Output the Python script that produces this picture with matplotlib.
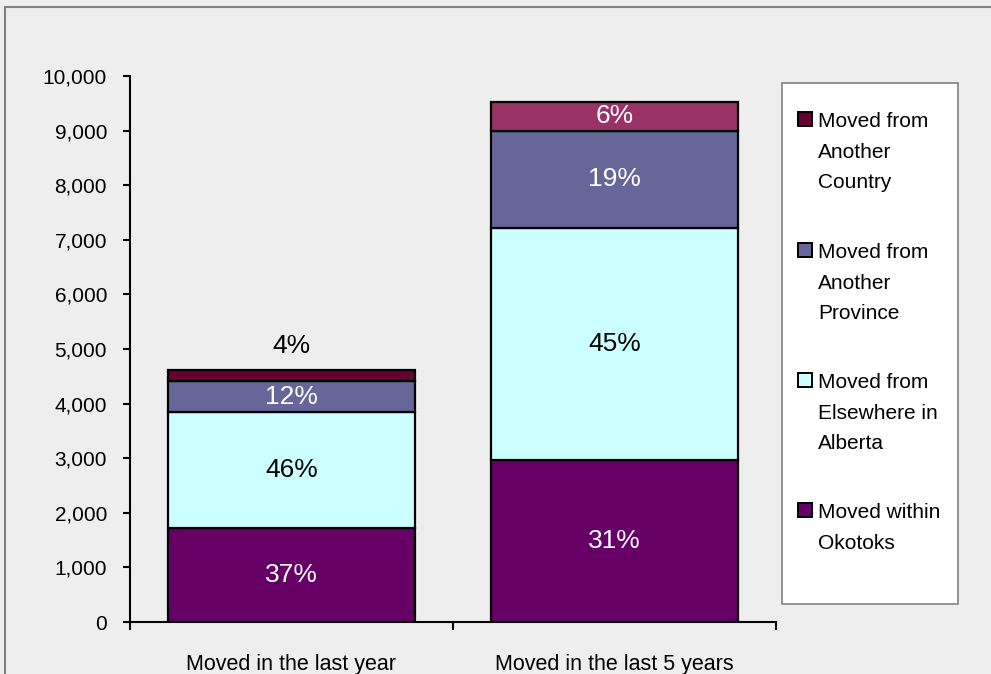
import matplotlib
matplotlib.use("Agg")
import matplotlib.pyplot as plt
from matplotlib.patches import Rectangle
from matplotlib.ticker import FuncFormatter, FixedLocator
import numpy as np

# Mobility data for Okotoks
categories = ["Moved in the last year", "Moved in the last 5 years"]
series_names = [
    "Moved within\nOkotoks",
    "Moved from\nElsewhere in\nAlberta",
    "Moved from\nAnother\nProvince",
    "Moved from\nAnother\nCountry",
]
within_okotoks = [1720, 2967]
elsewhere_alberta = [2125, 4249]
another_province = [567, 1777]
another_country = [200, 531]
y_ticks = [0, 1000, 2000, 3000, 4000, 5000, 6000, 7000, 8000, 9000, 10000]

series_values = [within_okotoks, elsewhere_alberta, another_province, another_country]
series_colors = ["#660066", "#CCFFFF", "#666699", "#660033"]
# the second bar's top segment is highlighted in a lighter rose
point_colors = {(3, 1): "#993366"}
label_colors = ["white", "black", "white", "white"]

plt.rcParams["font.family"] = ["Liberation Sans", "DejaVu Sans"]

W, H = 991, 674
fig = plt.figure(figsize=(W / 100, H / 100), dpi=100, facecolor="#EEEEEE")


def fx(px):
    return px / W


def fy(py):
    return 1 - py / H


# outer chart frame
fig.patches.append(Rectangle((fx(5), -0.05), 1.1, fy(7) + 0.05,
                             transform=fig.transFigure, facecolor="none",
                             edgecolor="#808080", linewidth=1.5))

ax = fig.add_axes([fx(130), fy(622), fx(776 - 130), (622 - 76) / H])
ax.set_facecolor("none")

x = np.array([0.5, 1.5])
width = 0.762
bottom = np.zeros(2)
totals = np.sum(np.array(series_values, dtype=float), axis=0)
for si, vals in enumerate(series_values):
    vals = np.array(vals, dtype=float)
    colors = [point_colors.get((si, i), series_colors[si]) for i in range(2)]
    ax.bar(x, vals, width, bottom=bottom, color=colors, edgecolor="black",
           linewidth=1.6, zorder=3)
    for i in range(2):
        share = vals[i] / totals[i]
        pct = f"{round(share * 100):.0f}%"
        if share < 0.05:
            ax.annotate(pct, (x[i], bottom[i] + vals[i]), xytext=(0, 9),
                        textcoords="offset points", ha="center", va="bottom",
                        fontsize=19, color="black")
        else:
            ax.text(x[i], bottom[i] + vals[i] / 2, pct, ha="center", va="center",
                    fontsize=19, color=label_colors[si], zorder=4)
    bottom = bottom + vals

ax.set_xlim(0, 2)
ax.set_ylim(0, 10000)
ax.set_yticks(y_ticks)
ax.yaxis.set_major_formatter(FuncFormatter(lambda v, p: f"{int(v):,}"))
ax.tick_params(axis="y", direction="out", length=5, width=1.5, pad=11.5,
               labelsize=15)

ax.xaxis.set_major_locator(FixedLocator([0, 1, 2]))
ax.xaxis.set_minor_locator(FixedLocator(list(x)))
ax.set_xticklabels([], minor=False)
ax.set_xticklabels(categories, minor=True)
ax.tick_params(axis="x", which="major", direction="out", length=6, width=1.5)
ax.tick_params(axis="x", which="minor", length=0, pad=23, labelsize=15.5)

for s in ["top", "right"]:
    ax.spines[s].set_visible(False)
for s in ["left", "bottom"]:
    ax.spines[s].set_linewidth(1.5)

# legend panel, entries listed top to bottom in stacking order reversed
fig.patches.append(Rectangle((fx(782), fy(604)), fx(958 - 782), (604 - 83) / H,
                             transform=fig.transFigure, facecolor="white",
                             edgecolor="#808080", linewidth=1.2))
first_baselines = [127, 258, 388, 518]
for row, si in enumerate(range(3, -1, -1)):
    base = first_baselines[row]
    fig.patches.append(Rectangle((fx(798), fy(base - 1)), fx(14), 14 / H,
                                 transform=fig.transFigure,
                                 facecolor=series_colors[si],
                                 edgecolor="black", linewidth=1.4))
    fig.text(fx(818), fy(base - 15), series_names[si], ha="left", va="top",
             fontsize=15, linespacing=1.78, color="black")

fig.savefig("out.png", dpi=100, facecolor=fig.get_facecolor())
